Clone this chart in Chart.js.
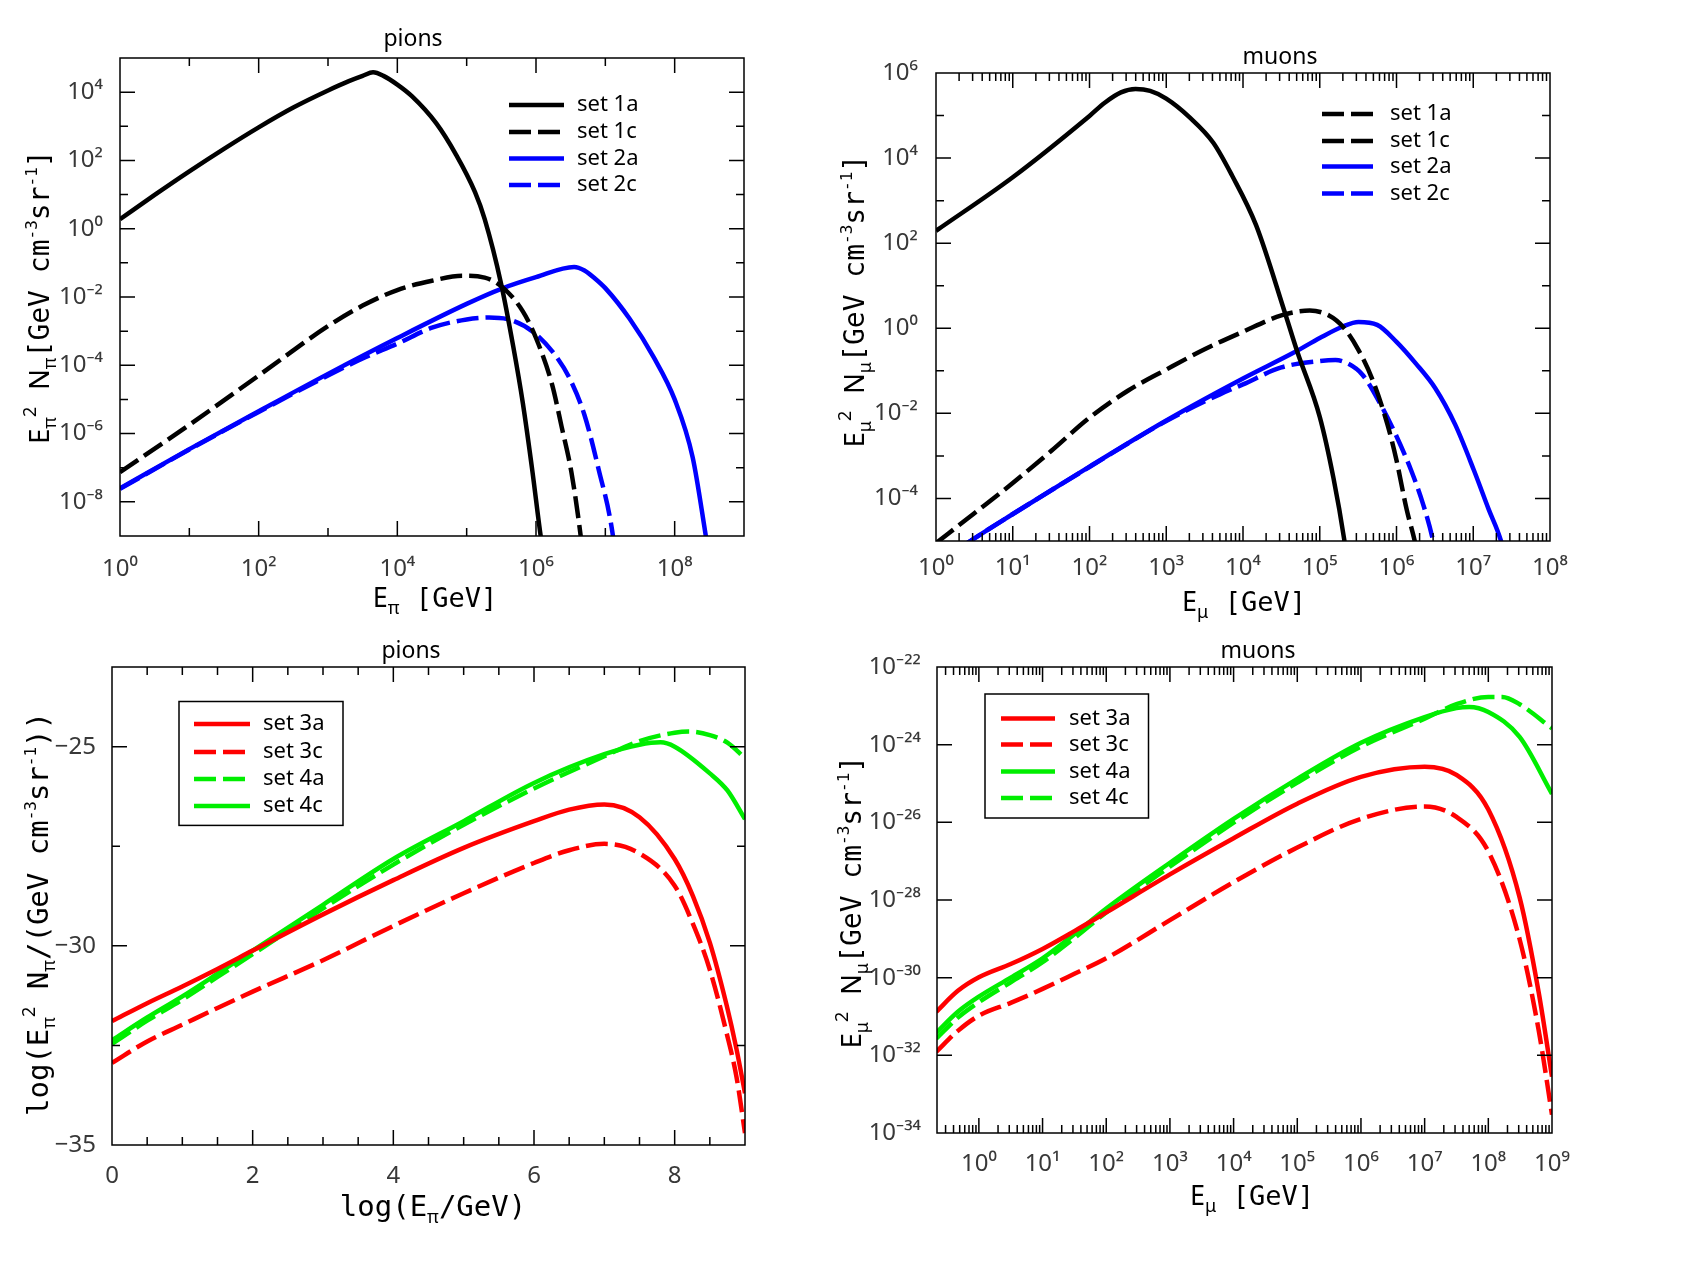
<!DOCTYPE html>
<html>
<head>
<meta charset="utf-8">
<title>pions and muons</title>
<script src="https://cdn.jsdelivr.net/npm/chart.js@4.4.1/dist/chart.umd.min.js"></script>
<style>
  body { margin: 0; background: #fff; }
  #page { position: relative; width: 1698px; height: 1267px; background: #fff; overflow: hidden; }
  canvas { position: absolute; }
</style>
</head>
<body>
<div id="page">
  <canvas id="tl" width="780" height="630" style="left:0;top:0"></canvas>
  <canvas id="tr" width="898" height="630" style="left:800px;top:0"></canvas>
  <canvas id="bl" width="780" height="637" style="left:0;top:630px"></canvas>
  <canvas id="br" width="898" height="637" style="left:800px;top:630px"></canvas>
</div>
<script>
// ---------- top left: pions, E^2 N [GeV cm^-3 sr^-1] vs E [GeV]
const tlE1a = [1, 3.16, 10, 31.6, 100, 316, 1000, 2000, 3160, 4470, 6310, 1e4, 1.62e4, 3.63e4, 6.92e4, 1.32e5, 1.82e5, 3.16e5, 4.68e5, 6.46e5, 8.91e5, 1.17e6, 1.41e6];
const tlN1a = [1.9, 9.8, 48, 219, 933, 3550, 1.12e4, 2.1e4, 3.0e4, 3.8e4, 3.0e4, 1.66e4, 7.6e3, 1.23e3, 155, 11.7, 1.9, 2.3e-2, 3.7e-4, 7.8e-6, 7.4e-8, 9.8e-10, 1e-10];
const tlE1c = [1, 10, 100, 1000, 3160, 1e4, 3.16e4, 8.71e4, 1.82e5, 3.39e5, 6.46e5, 1e6, 1.7e6, 2.34e6, 3.24e6, 4.37e6, 5e6];
const tlN1c = [7.4e-8, 1.8e-6, 5.0e-5, 1.4e-3, 5.6e-3, 1.6e-2, 3.0e-2, 4.17e-2, 3.7e-2, 1.82e-2, 3.8e-3, 6.3e-4, 2.8e-5, 1.6e-6, 7.4e-8, 1.17e-9, 1e-10];
const tlE2a = [1, 10, 100, 1000, 1e4, 1e5, 3.16e5, 1e6, 3.55e6, 5.0e6, 7.08e6, 1e7, 2.24e7, 5.0e7, 1e8, 1.82e8, 2.82e8, 3.5e8];
const tlN2a = [2.5e-8, 3.5e-7, 4.5e-6, 5.6e-5, 6.3e-4, 6.3e-3, 1.74e-2, 3.8e-2, 7.6e-2, 6.0e-2, 3.5e-2, 1.82e-2, 2.3e-3, 1.7e-4, 1e-5, 2.0e-7, 9.8e-10, 6e-11];
const tlE2c = [1, 10, 100, 1000, 3160, 1e4, 3.16e4, 1e5, 2.1e5, 4.7e5, 1e6, 2e6, 3.16e6, 5e6, 7.9e6, 1.29e7, 1.5e7];
const tlN2c = [2.4e-8, 3.4e-7, 4.3e-6, 5.0e-5, 1.58e-4, 4.3e-4, 1.26e-3, 2.2e-3, 2.5e-3, 2.0e-3, 8.1e-4, 1.7e-4, 3.6e-5, 3.5e-6, 1.0e-7, 9.8e-10, 6e-11];

const tlXTickVals = [1, 1e2, 1e4, 1e6, 1e8];
const tlXTickLabels = ['10⁰', '10²', '10⁴', '10⁶', '10⁸'];
const tlXMinor = [10, 1e3, 1e5, 1e7];
const tlYTickVals = [1e-8, 1e-6, 1e-4, 1e-2, 1, 1e2, 1e4];
const tlYTickLabels = ['10⁻⁸', '10⁻⁶', '10⁻⁴', '10⁻²', '10⁰', '10²', '10⁴'];
const tlYMinor = [1e-7, 1e-5, 1e-3, 1e-1, 10, 1e3];

// ---------- top right: muons
const trE1a = [1, 10, 100, 158, 257, 398, 617, 1e3, 2e3, 4.1e3, 7.2e3, 1.48e4, 3.55e4, 5.1e4, 1e5, 1.51e5, 2.1e5, 2.5e5];
const trN1a = [195, 3550, 9.8e4, 2.0e5, 3.5e5, 4.2e5, 3.8e5, 2.5e5, 9.2e4, 2.3e4, 3.9e3, 265, 2.2, 0.28, 8.3e-3, 3.0e-4, 1e-5, 1e-6];
const trE1c = [1, 3.16, 10, 31.6, 100, 316, 1e3, 3.16e3, 1e4, 3.16e4, 7.4e4, 1.32e5, 2.04e5, 3.16e5, 4.9e5, 7.6e5, 1e6, 1.35e6, 1.78e6, 2e6];
const trN1c = [8.9e-6, 4.5e-5, 2.3e-4, 1.3e-3, 7.9e-3, 3.4e-2, 0.107, 0.32, 0.83, 2.0, 2.6, 2.0, 1.05, 0.32, 6.0e-2, 5.6e-3, 7.9e-4, 5.7e-5, 7.9e-6, 2.5e-6];
const trE2a = [2.2, 2.8, 9.8, 100, 1e3, 1e4, 4.8e4, 1e5, 2.0e5, 3.2e5, 5.6e5, 1e6, 1.78e6, 3.2e6, 5.8e6, 1.02e7, 1.58e7, 2.3e7, 2.6e7];
const trN2a = [7.4e-6, 1e-5, 4.2e-5, 5.6e-4, 6.8e-3, 6.6e-2, 0.28, 0.59, 1.1, 1.4, 1.2, 0.48, 0.15, 3.9e-2, 5.5e-3, 4.6e-4, 5.7e-5, 1e-5, 4e-6];
const trE2c = [2.2, 2.8, 9.8, 100, 1e3, 5e3, 1e4, 3.16e4, 1e5, 1.6e5, 2.3e5, 3.6e5, 6.3e5, 1e6, 1.55e6, 2.24e6, 3.0e6, 3.4e6];
const trN2c = [7.4e-6, 1e-5, 4.2e-5, 5.5e-4, 6.6e-3, 2.8e-2, 4.8e-2, 0.12, 0.17, 0.18, 0.15, 8.1e-2, 1.55e-2, 2.9e-3, 4.6e-4, 7e-5, 1e-5, 3e-6];

const trXTickVals = [1, 10, 1e2, 1e3, 1e4, 1e5, 1e6, 1e7, 1e8];
const trXTickLabels = ['10⁰', '10¹', '10²', '10³', '10⁴', '10⁵', '10⁶', '10⁷', '10⁸'];
const trYTickVals = [1e-4, 1e-2, 1, 1e2, 1e4, 1e6];
const trYTickLabels = ['10⁻⁴', '10⁻²', '10⁰', '10²', '10⁴', '10⁶'];
const trYMinor = [1e-3, 1e-1, 10, 1e3, 1e5];

// ---------- bottom left: pions, log(E^2 N) vs log(E/GeV)
const blX3a = [0, 0.5, 1, 1.5, 2, 3, 4, 5, 6, 6.5, 7, 7.5, 8, 8.26, 8.5, 8.74, 8.88, 9];
const bl3a = [-31.89, -31.44, -31.02, -30.58, -30.12, -29.21, -28.35, -27.54, -26.87, -26.58, -26.45, -26.77, -27.82, -28.75, -29.92, -31.5, -32.6, -33.7];
const blX3c = [0, 0.5, 1, 1.5, 2, 3, 4, 5, 6, 6.5, 7, 7.5, 8, 8.26, 8.5, 8.74, 8.88, 9];
const bl3c = [-32.94, -32.4, -31.98, -31.56, -31.15, -30.36, -29.5, -28.68, -27.92, -27.6, -27.44, -27.68, -28.49, -29.45, -30.6, -32.2, -33.3, -34.7];
const blX4a = [0, 0.5, 1, 1.5, 2, 3, 4, 5, 6, 7, 7.5, 8, 8.2, 8.5, 8.75, 9];
const bl4a = [-32.46, -31.88, -31.35, -30.78, -30.21, -29.06, -27.96, -26.96, -26.05, -25.24, -24.86, -24.65, -24.62, -24.71, -24.9, -25.29];
const blX4c = [0, 0.5, 1, 1.5, 2, 3, 4, 5, 6, 7, 7.5, 7.8, 8, 8.5, 8.75, 9];
const bl4c = [-32.37, -31.8, -31.27, -30.7, -30.12, -28.97, -27.82, -26.87, -25.91, -25.19, -24.95, -24.89, -25.0, -25.67, -26.1, -26.82];

const blXTickVals = [0, 2, 4, 6, 8];
const blXTickLabels = ['0', '2', '4', '6', '8'];
const blXMinor = [0.5, 1, 1.5, 2.5, 3, 3.5, 4.5, 5, 5.5, 6.5, 7, 7.5, 8.5];
const blYTickVals = [-35, -30, -25];
const blYTickLabels = ['−35', '−30', '−25'];
const blYMinor = [-32.5, -27.5];

// ---------- bottom right: muons
const brE3 = [0.214, 0.468, 1, 3.16, 10, 31.6, 100, 1e3, 1e4, 1e5, 1e6, 1e7, 3.16e7, 1e8, 3.1e8, 6.2e8, 1e9];
const br3a = [1.32e-31, 4.57e-31, 1.02e-30, 2.24e-30, 5.5e-30, 1.58e-29, 4.79e-29, 4.57e-28, 3.89e-27, 3.02e-26, 1.48e-25, 2.69e-25, 1.66e-25, 2.14e-26, 1.17e-28, 4.07e-31, 2.82e-33];
const br3c = [1.23e-32, 4.27e-32, 1.05e-31, 2.24e-31, 5.13e-31, 1.26e-30, 3.16e-30, 3.02e-29, 2.88e-28, 2.24e-27, 1.23e-26, 2.57e-26, 1.38e-26, 1.78e-27, 9.77e-30, 4.27e-32, 2.95e-34];
const brE4a = [0.214, 0.468, 1, 3.16, 10, 31.6, 100, 1e3, 1e4, 1e5, 1e6, 1e7, 3.16e7, 5e7, 1e8, 3.1e8, 1e9];
const br4a = [3.8e-32, 1.32e-31, 3.24e-31, 1.0e-30, 3.16e-30, 1.32e-29, 6.03e-29, 9.12e-28, 1.23e-26, 1.32e-25, 1.12e-24, 5.13e-24, 8.71e-24, 9.33e-24, 6.92e-24, 1.58e-24, 5.37e-26];
const brE4c = [0.214, 0.468, 1, 3.16, 10, 31.6, 100, 1e3, 1e4, 1e5, 1e6, 1e7, 3.16e7, 1e8, 1.66e8, 3.1e8, 1e9];
const br4c = [2.69e-32, 9.33e-32, 2.34e-31, 7.6e-31, 2.51e-30, 1.05e-29, 4.79e-29, 7.24e-28, 9.77e-27, 1.05e-25, 8.91e-25, 4.68e-24, 1.1e-23, 1.7e-23, 1.7e-23, 1.1e-23, 2.63e-24];

const brXTickVals = [1, 10, 1e2, 1e3, 1e4, 1e5, 1e6, 1e7, 1e8, 1e9];
const brXTickLabels = ['10⁰', '10¹', '10²', '10³', '10⁴', '10⁵', '10⁶', '10⁷', '10⁸', '10⁹'];
const brYTickVals = [1e-34, 1e-32, 1e-30, 1e-28, 1e-26, 1e-24, 1e-22];
const brYTickLabels = ['10⁻³⁴', '10⁻³²', '10⁻³⁰', '10⁻²⁸', '10⁻²⁶', '10⁻²⁴', '10⁻²²'];

// minor ticks 2..9 per decade for the muon panels
function decadeMinors(lo, hi) {
  let out = [];
  for (let d = lo; d <= hi; d++) {
    for (let k = 2; k <= 9; k++) out.push(k * Math.pow(10, d));
  }
  return out;
}
const trXMinor = decadeMinors(0, 7);
const brXMinor = decadeMinors(-1, 8).filter((v) => v > 0.23 && v < 1e9);

const black = '#000000';
const blue = '#0000ff';
const red = '#ff0000';
const green = '#00ee00';
const dash = [22, 7];

const sans = '"Noto Sans", "DejaVu Sans", sans-serif';
const mono = '"DejaVu Sans Mono", monospace';
const fSans = '27px ' + sans;
const fSub = '18px ' + sans;
const fMono = '28px ' + mono;
const fMonoX = '27px ' + mono;
const fMonoL = '29px ' + mono;
const fSup = '16px ' + mono;

// axis titles as [text, font, baseline shift]
function energyTitle(p) {
  return [['E', fSans, 0], [p, fSub, 7], [' [GeV]', fMonoX, 0]];
}
function fluxTitle(p) {
  return [['E', fSans, 0], [p, fSub, 7], ['2', fSub, -13], [' ', fMono, 0], ['N', fSans, 0], [p, fSub, 7],
    ['[GeV cm', fMono, 0], ['-3', fSup, -12], ['sr', fMono, 0], ['-1', fSup, -12], [']', fMono, 0]];
}

const frames = {
  tl: {
    title: 'pions', titleAt: [413, 39],
    yTitle: fluxTitle('π'), yTitleAt: [49, 297],
    xTitle: energyTitle('π'), xTitleAt: [435, 607],
    xMajor: tlXTickVals, xMinor: tlXMinor, yMajor: tlYTickVals, yMinor: tlYMinor,
    legend: { lineX: [389, 444], textX: 457, rows: [47, 74, 100.5, 127], box: null },
  },
  tr: {
    title: 'muons', titleAt: [480, 57],
    yTitle: fluxTitle('μ'), yTitleAt: [64, 301],
    xTitle: energyTitle('μ'), xTitleAt: [444, 611],
    xMajor: trXTickVals, xMinor: trXMinor, yMajor: trYTickVals, yMinor: trYMinor,
    legend: { lineX: [386, 437], textX: 454, rows: [41, 68, 93.5, 120.5], box: null },
  },
  bl: {
    title: 'pions', titleAt: [411, 21],
    yTitle: [['log(E', fMonoL, 0], ['π', fSub, 7], ['2', fSub, -13], [' N', fMonoL, 0], ['π', fSub, 7],
      ['/(GeV cm', fMonoL, 0], ['-3', fSup, -12], ['sr', fMonoL, 0], ['-1', fSup, -12], ['))', fMonoL, 0]],
    yTitleAt: [48, 284],
    xTitle: [['log(E', fMonoL, 0], ['π', fSub, 7], ['/GeV)', fMonoL, 0]], xTitleAt: [433, 586],
    xMajor: blXTickVals, xMinor: blXMinor, yMajor: blYTickVals, yMinor: blYMinor,
    legend: { lineX: [82, 138], textX: 151, rows: [57, 85, 112, 139], box: [67, 34.5, 231, 158.4] },
  },
  br: {
    title: 'muons', titleAt: [458, 21],
    yTitle: fluxTitle('μ'), yTitleAt: [61, 272],
    xTitle: energyTitle('μ'), xTitleAt: [452, 575],
    xMajor: brXTickVals, xMinor: brXMinor, yMajor: brYTickVals, yMinor: [],
    legend: { lineX: [64, 118], textX: 132, rows: [51.5, 77.6, 104.5, 131], box: [48, 27, 211.5, 151] },
  },
};

function drawRich(ctx, parts, x, y, vertical) {
  ctx.save();
  ctx.translate(x, y);
  if (vertical) ctx.rotate(-Math.PI / 2);
  ctx.textBaseline = 'alphabetic';
  ctx.textAlign = 'left';
  ctx.fillStyle = '#000';
  let total = 0;
  parts.forEach((p) => { ctx.font = p[1]; total += ctx.measureText(p[0]).width; });
  let cx = -total / 2;
  parts.forEach((p) => {
    ctx.font = p[1];
    ctx.fillText(p[0], cx, p[2]);
    cx += ctx.measureText(p[0]).width;
  });
  ctx.restore();
}

// box, inward ticks on all four sides, titles and the inset legend
const framePlugin = {
  id: 'frame',
  afterDraw(chart) {
    const f = frames[chart.canvas.id];
    const ctx = chart.ctx;
    const a = chart.chartArea;
    const xs = chart.scales.x;
    const ys = chart.scales.y;
    ctx.save();
    ctx.strokeStyle = '#000';
    ctx.lineWidth = 1.5;
    const xTick = (v, len) => {
      const px = xs.getPixelForValue(v);
      if (px <= a.left + 1 || px >= a.right - 1) return;
      ctx.beginPath();
      ctx.moveTo(px, a.bottom); ctx.lineTo(px, a.bottom - len);
      ctx.moveTo(px, a.top); ctx.lineTo(px, a.top + len);
      ctx.stroke();
    };
    const yTick = (v, len) => {
      const py = ys.getPixelForValue(v);
      if (py <= a.top + 1 || py >= a.bottom - 1) return;
      ctx.beginPath();
      ctx.moveTo(a.left, py); ctx.lineTo(a.left + len, py);
      ctx.moveTo(a.right, py); ctx.lineTo(a.right - len, py);
      ctx.stroke();
    };
    f.xMajor.forEach((v) => xTick(v, 15));
    f.xMinor.forEach((v) => xTick(v, 8));
    f.yMajor.forEach((v) => yTick(v, 15));
    f.yMinor.forEach((v) => yTick(v, 8));
    ctx.strokeRect(a.left, a.top, a.right - a.left, a.bottom - a.top);

    ctx.fillStyle = '#000';
    ctx.font = '23px ' + sans;
    ctx.textAlign = 'center';
    ctx.textBaseline = 'middle';
    ctx.fillText(f.title, f.titleAt[0], f.titleAt[1]);
    drawRich(ctx, f.yTitle, f.yTitleAt[0], f.yTitleAt[1], true);
    drawRich(ctx, f.xTitle, f.xTitleAt[0], f.xTitleAt[1], false);

    const lg = f.legend;
    if (lg.box) {
      ctx.lineWidth = 1.5;
      ctx.strokeRect(a.left + lg.box[0], a.top + lg.box[1], lg.box[2] - lg.box[0], lg.box[3] - lg.box[1]);
    }
    chart.data.datasets.forEach((ds, i) => {
      const y = a.top + lg.rows[i];
      ctx.beginPath();
      ctx.setLineDash(ds.legendDash || ds.borderDash || []);
      ctx.strokeStyle = ds.borderColor;
      ctx.lineWidth = ds.borderWidth;
      ctx.moveTo(a.left + lg.lineX[0], y);
      ctx.lineTo(a.left + lg.lineX[1], y);
      ctx.stroke();
      ctx.setLineDash([]);
      ctx.fillStyle = '#000';
      ctx.font = '22px ' + sans;
      ctx.textAlign = 'left';
      ctx.textBaseline = 'middle';
      ctx.fillText(ds.label, a.left + lg.textX, y);
    });
    ctx.restore();
  },
};

function pts(xs, ys) {
  return xs.map((x, i) => ({ x: x, y: ys[i] }));
}

function line(label, xs, ys, color, dashed) {
  return {
    label: label,
    data: pts(xs, ys),
    borderColor: color,
    borderWidth: 4.5,
    borderDash: dashed ? dash : [],
    pointRadius: 0,
    fill: false,
    cubicInterpolationMode: 'monotone',
    clip: 0,
  };
}

function axis(type, min, max, vals, labels, pad, size, isX) {
  return {
    type: type,
    min: min,
    max: max,
    bounds: 'data',
    grid: { display: false },
    border: { display: false },
    afterBuildTicks: (s) => { s.ticks = vals.map((v) => ({ value: v })); },
    afterFit: (s) => { if (isX) s.height = size; else s.width = size; },
    ticks: {
      autoSkip: false,
      maxRotation: 0,
      minRotation: 0,
      padding: pad,
      color: '#383838',
      font: { family: sans, size: 24 },
      callback: (v, i) => labels[i],
    },
  };
}

function opts(x, y, top, right) {
  return {
    responsive: false,
    devicePixelRatio: 1,
    animation: false,
    events: [],
    layout: { padding: { left: 0, top: top, right: right, bottom: 0 } },
    plugins: { legend: { display: false }, tooltip: { enabled: false } },
    scales: { x: x, y: y },
  };
}

new Chart(document.getElementById('tl'), {
  type: 'line',
  data: {
    datasets: [
      line('set 1a', tlE1a, tlN1a, black, false),
      line('set 1c', tlE1c, tlN1c, black, true),
      line('set 2a', tlE2a, tlN2a, blue, false),
      line('set 2c', tlE2c, tlN2c, blue, true),
    ],
  },
  options: opts(
    axis('logarithmic', 1, 1e9, tlXTickVals, tlXTickLabels, 11, 94, true),
    axis('logarithmic', 1e-9, 1e5, tlYTickVals, tlYTickLabels, 9, 120, false),
    58, 36),
  plugins: [framePlugin],
});

let tr1a = line('set 1a', trE1a, trN1a, black, false);
tr1a.legendDash = dash; // the legend of this panel shows set 1a dashed
new Chart(document.getElementById('tr'), {
  type: 'line',
  data: {
    datasets: [
      tr1a,
      line('set 1c', trE1c, trN1c, black, true),
      line('set 2a', trE2a, trN2a, blue, false),
      line('set 2c', trE2c, trN2c, blue, true),
    ],
  },
  options: opts(
    axis('logarithmic', 1, 1e8, trXTickVals, trXTickLabels, 5, 89, true),
    axis('logarithmic', 1e-5, 1e6, trYTickVals, trYTickLabels, 10, 136, false),
    73, 148),
  plugins: [framePlugin],
});

new Chart(document.getElementById('bl'), {
  type: 'line',
  data: {
    datasets: [
      line('set 3a', blX3a, bl3a, red, false),
      line('set 3c', blX3c, bl3c, red, true),
      line('set 4a', blX4a, bl4a, green, true),
      line('set 4c', blX4c, bl4c, green, false),
    ],
  },
  options: opts(
    axis('linear', 0, 9, blXTickVals, blXTickLabels, 9, 122, true),
    axis('linear', -35, -23, blYTickVals, blYTickLabels, 8, 112, false),
    37, 35),
  plugins: [framePlugin],
});

new Chart(document.getElementById('br'), {
  type: 'line',
  data: {
    datasets: [
      line('set 3a', brE3, br3a, red, false),
      line('set 3c', brE3, br3c, red, true),
      line('set 4a', brE4a, br4a, green, false),
      line('set 4c', brE4c, br4c, green, true),
    ],
  },
  options: opts(
    axis('logarithmic', 0.22, 1e9, brXTickVals, brXTickLabels, 9, 134, true),
    axis('logarithmic', 1e-34, 1e-22, brYTickVals, brYTickLabels, 8, 137, false),
    37, 146),
  plugins: [framePlugin],
});
</script>
</body>
</html>
